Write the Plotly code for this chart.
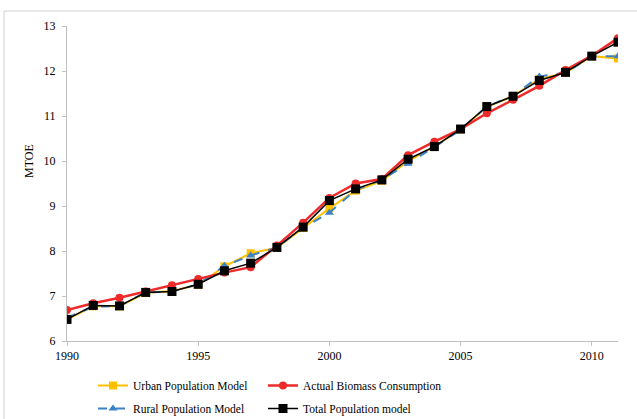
import plotly.graph_objects as go

years = list(range(1990, 2012))
actual = [6.69, 6.84, 6.96, 7.10, 7.24, 7.38, 7.52, 7.64, 8.12, 8.63, 9.18, 9.50, 9.60, 10.13, 10.43, 10.71, 11.06, 11.36, 11.67, 12.02, 12.34, 12.73]
total = [6.48, 6.79, 6.78, 7.08, 7.10, 7.26, 7.56, 7.73, 8.08, 8.53, 9.12, 9.38, 9.58, 10.04, 10.32, 10.71, 11.21, 11.44, 11.79, 11.97, 12.33, 12.64]
urban = [6.48, 6.77, 6.77, 7.07, 7.11, 7.25, 7.66, 7.95, 8.07, 8.51, 8.95, 9.34, 9.56, 10.00, 10.32, 10.70, 11.20, 11.44, 11.82, 11.96, 12.33, 12.28]
rural = [6.52, 6.76, 6.78, 7.08, 7.10, 7.26, 7.67, 7.90, 8.08, 8.52, 8.85, 9.36, 9.58, 9.94, 10.31, 10.69, 11.21, 11.45, 11.88, 11.96, 12.33, 12.33]

x_ticks = [1990, 1995, 2000, 2005, 2010]
y_ticks = [6, 7, 8, 9, 10, 11, 12, 13]

W, H = 637, 419
L, R, T, B = 67, 19, 26, 78
pw, ph = W - L - R, H - T - B

def px(x):
    return (x - L) / pw

def py(y):
    return (H - B - y) / ph

FONT = "Liberation Serif, Times New Roman, serif"
font = dict(family=FONT, size=12, color="#000000")
legfont = dict(family=FONT, size=11.5, color="#000000")

fig = go.Figure()
fig.add_trace(go.Scatter(x=years, y=urban, name="Urban Population Model", mode="lines+markers",
                         line=dict(color="#FFC000", width=2), marker=dict(symbol="square", size=8, color="#FFC000"),
                         legend="legend", legendgroup="a"))
fig.add_trace(go.Scatter(x=years, y=rural, name="Rural Population Model", mode="lines+markers",
                         line=dict(color="#3B82C8", width=2, dash="dash"), marker=dict(symbol="triangle-up", size=8, color="#3B82C8"),
                         legend="legend", legendgroup="b"))
fig.add_trace(go.Scatter(x=years, y=actual, name="Actual Biomass Consumption", mode="lines+markers",
                         line=dict(color="#EE2A2A", width=2.5), marker=dict(symbol="circle", size=8, color="#EE2A2A"),
                         legend="legend2", legendgroup="c"))
fig.add_trace(go.Scatter(x=years, y=total, name="Total Population model", mode="lines+markers",
                         line=dict(color="#000000", width=1.5), marker=dict(symbol="square", size=9, color="#000000"),
                         legend="legend2", legendgroup="d"))

legend_common = dict(font=legfont, bgcolor="rgba(0,0,0,0)", orientation="v", itemwidth=30,
                     xanchor="left", yanchor="top", tracegroupgap=4, traceorder="grouped")

fig.update_layout(
    width=W, height=H,
    margin=dict(l=L, r=R, t=T, b=B, pad=0, autoexpand=False),
    paper_bgcolor="white", plot_bgcolor="white",
    font=font,
    xaxis=dict(range=[1990, 2011], tickvals=x_ticks, ticktext=[str(v) for v in x_ticks],
               showgrid=False, zeroline=False, showline=True, linecolor="#BFBFBF", linewidth=1,
               ticks="outside", ticklen=4, tickcolor="#BFBFBF", tickfont=font),
    yaxis=dict(range=[6, 13], tickvals=y_ticks, ticktext=[str(v) for v in y_ticks],
               showgrid=False, zeroline=False, showline=True, linecolor="#BFBFBF", linewidth=1,
               ticks="outside", ticklen=4, tickcolor="#BFBFBF", tickfont=font, ticklabelstandoff=4),
    legend=dict(x=px(93), y=py(371), **legend_common),
    legend2=dict(x=px(263), y=py(371), **legend_common),
    showlegend=True,
)

fig.add_annotation(text="MTOE", textangle=-90, x=px(29), y=py(161), xref="paper", yref="paper",
                   xanchor="center", yanchor="middle", showarrow=False, font=font)

# outer frame
fig.add_shape(type="line", xref="paper", yref="paper", x0=px(4), x1=px(W + 2), y0=py(11), y1=py(11),
              line=dict(color="#D0D0D0", width=1))
fig.add_shape(type="line", xref="paper", yref="paper", x0=px(4), x1=px(4), y0=py(11), y1=py(H + 2),
              line=dict(color="#D0D0D0", width=1))

fig.write_html("out.html", config={"displayModeBar": False},
               post_script="document.body.style.margin='0px';document.body.style.padding='0px';")
